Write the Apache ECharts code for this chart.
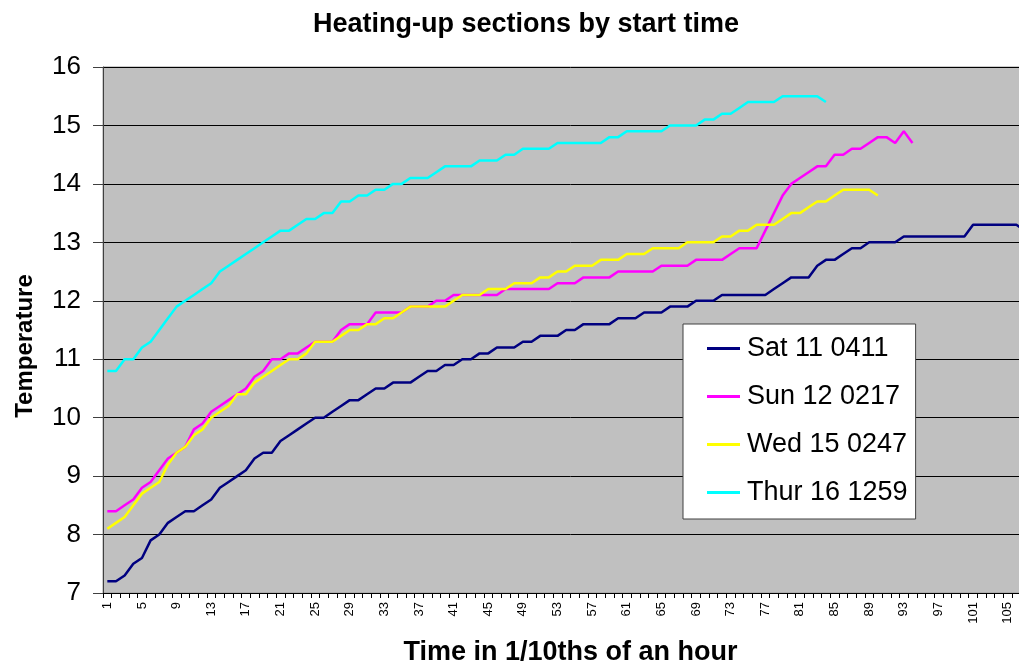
<!DOCTYPE html>
<html>
<head>
<meta charset="utf-8">
<script src="https://cdn.jsdelivr.net/npm/echarts@6/dist/echarts.min.js"></script>
<style>
html,body{margin:0;padding:0;background:#fff;overflow:hidden;width:1019px;height:665px;}
#chart{width:1040px;height:665px;}
</style>
</head>
<body>
<div id="chart"></div>
<script>
var categoryCount = 108;
var categories = [];
for (var c = 1; c <= categoryCount; c++) categories.push(String(c));

var seriesNames = ['Sat 11 0411', 'Sun 12 0217', 'Wed 15 0247', 'Thur 16 1259'];

var sat11 = [7.2,7.2,7.3,7.5,7.6,7.9,8.0,8.2,8.3,8.4,8.4,8.5,8.6,8.8,8.9,9.0,9.1,9.3,9.4,9.4,9.6,9.7,9.8,
  9.9,10.0,10.0,10.1,10.2,10.3,10.3,10.4,10.5,10.5,10.6,10.6,10.6,10.7,10.8,10.8,10.9,10.9,11.0,11.0,11.1,11.1,11.2,11.2,11.2,11.3,
  11.3,11.4,11.4,11.4,11.5,11.5,11.6,11.6,11.6,11.6,11.7,11.7,11.7,11.8,11.8,11.8,11.9,11.9,11.9,12.0,12.0,12.0,12.1,12.1,12.1,12.1,12.1,
  12.1,12.2,12.3,12.4,12.4,12.4,12.6,12.7,12.7,12.8,12.9,12.9,13.0,13.0,13.0,13.0,13.1,13.1,13.1,13.1,13.1,13.1,13.1,13.1,13.3,13.3,13.3,13.3,13.3,13.3,13.2];

var sun12 = [8.4,8.4,8.5,8.6,8.8,8.9,9.1,9.3,9.4,9.5,9.8,9.9,10.1,10.2,10.3,10.4,10.5,10.7,10.8,11.0,11.0,11.1,11.1,
  11.2,11.3,11.3,11.3,11.5,11.6,11.6,11.6,11.8,11.8,11.8,11.8,11.9,11.9,11.9,12.0,12.0,12.1,12.1,12.1,12.1,12.1,12.1,12.2,12.2,12.2,
  12.2,12.2,12.2,12.3,12.3,12.3,12.4,12.4,12.4,12.4,12.5,12.5,12.5,12.5,12.5,12.6,12.6,12.6,12.6,12.7,12.7,12.7,12.7,12.8,12.9,12.9,12.9,
  13.2,13.5,13.8,14.0,14.1,14.2,14.3,14.3,14.5,14.5,14.6,14.6,14.7,14.8,14.8,14.7,14.9,14.7];

var wed15 = [8.1,8.2,8.3,8.5,8.7,8.8,8.9,9.2,9.4,9.5,9.7,9.8,10.0,10.1,10.2,10.4,10.4,10.6,10.7,10.8,10.9,11.0,11.0,
  11.1,11.3,11.3,11.3,11.4,11.5,11.5,11.6,11.6,11.7,11.7,11.8,11.9,11.9,11.9,11.9,11.9,12.0,12.1,12.1,12.1,12.2,12.2,12.2,12.3,12.3,
  12.3,12.4,12.4,12.5,12.5,12.6,12.6,12.6,12.7,12.7,12.7,12.8,12.8,12.8,12.9,12.9,12.9,12.9,13.0,13.0,13.0,13.0,13.1,13.1,13.2,13.2,13.3,
  13.3,13.3,13.4,13.5,13.5,13.6,13.7,13.7,13.8,13.9,13.9,13.9,13.9,13.8];

var thur16 = [10.8,10.8,11.0,11.0,11.2,11.3,11.5,11.7,11.9,12.0,12.1,12.2,12.3,12.5,12.6,12.7,12.8,12.9,13.0,13.1,13.2,13.2,13.3,
  13.4,13.4,13.5,13.5,13.7,13.7,13.8,13.8,13.9,13.9,14.0,14.0,14.1,14.1,14.1,14.2,14.3,14.3,14.3,14.3,14.4,14.4,14.4,14.5,14.5,14.6,
  14.6,14.6,14.6,14.7,14.7,14.7,14.7,14.7,14.7,14.8,14.8,14.9,14.9,14.9,14.9,14.9,15.0,15.0,15.0,15.0,15.1,15.1,15.2,15.2,15.3,15.4,15.4,
  15.4,15.4,15.5,15.5,15.5,15.5,15.5,15.4];

var seriesColors = ['#000080', '#FF00FF', '#FFFF00', '#00FFFF'];
var seriesData = [sat11, sun12, wed15, thur16];

var FONT = '"Liberation Sans", Arial, sans-serif';

var chart = echarts.init(document.getElementById('chart'), null, {renderer: 'canvas'});

var series = seriesData.map(function (d, k) {
  return {
    name: seriesNames[k],
    type: 'line',
    data: d,
    symbol: 'none',
    smooth: false,
    animation: false,
    lineStyle: {color: seriesColors[k], width: 2.5},
    itemStyle: {color: seriesColors[k]}
  };
});

chart.setOption({
  animation: false,
  backgroundColor: '#ffffff',
  title: {
    text: 'Heating-up sections by start time',
    left: 521,
    textAlign: 'center',
    top: 6,
    textStyle: {fontFamily: FONT, fontSize: 27, fontWeight: 'bold', color: '#000'}
  },
  legend: {
    orient: 'vertical',
    left: 683,
    top: 324,
    width: 232,
    backgroundColor: '#ffffff',
    borderColor: '#404040',
    borderWidth: 1,
    padding: [9, 8, 11, 24],
    itemGap: 17,
    itemWidth: 33,
    itemHeight: 3,
    icon: 'rect',
    data: seriesNames,
    textStyle: {fontFamily: FONT, fontSize: 27, color: '#000', lineHeight: 31, padding: [0, 0, 0, 2]}
  },
  grid: {
    left: 103,
    top: 67,
    right: 2,
    bottom: 72,
    show: true,
    backgroundColor: '#C0C0C0',
    borderColor: '#9a9a9a',
    borderWidth: 1,
    containLabel: false,
    outerBoundsMode: 'none'
  },
  xAxis: {
    type: 'category',
    data: categories,
    boundaryGap: true,
    name: 'Time in 1/10ths of an hour',
    nameLocation: 'middle',
    nameGap: 46,
    nameTextStyle: {fontFamily: FONT, fontSize: 27, fontWeight: 'bold', color: '#000'},
    axisLine: {show: true, lineStyle: {color: '#000', width: 1}},
    axisTick: {show: true, interval: 0, length: 5, lineStyle: {color: '#000'}},
    axisLabel: {interval: 3, rotate: 90, fontFamily: FONT, fontSize: 13, color: '#000', margin: 9},
    splitLine: {show: false}
  },
  yAxis: {
    type: 'value',
    min: 7,
    max: 16,
    interval: 1,
    name: 'Temperature',
    nameLocation: 'middle',
    nameGap: 66,
    nameRotate: 90,
    nameTextStyle: {fontFamily: FONT, fontSize: 24, fontWeight: 'bold', color: '#000', padding: [0, 32, 0, 0]},
    axisLine: {show: true, lineStyle: {color: '#404040', width: 1}},
    axisTick: {show: true, inside: false, length: 10, lineStyle: {color: '#404040'}},
    axisLabel: {fontFamily: FONT, fontSize: 26, color: '#000', margin: 22},
    splitLine: {show: true, lineStyle: {color: '#000', width: 1}}
  },
  series: series
});
</script>
</body>
</html>
